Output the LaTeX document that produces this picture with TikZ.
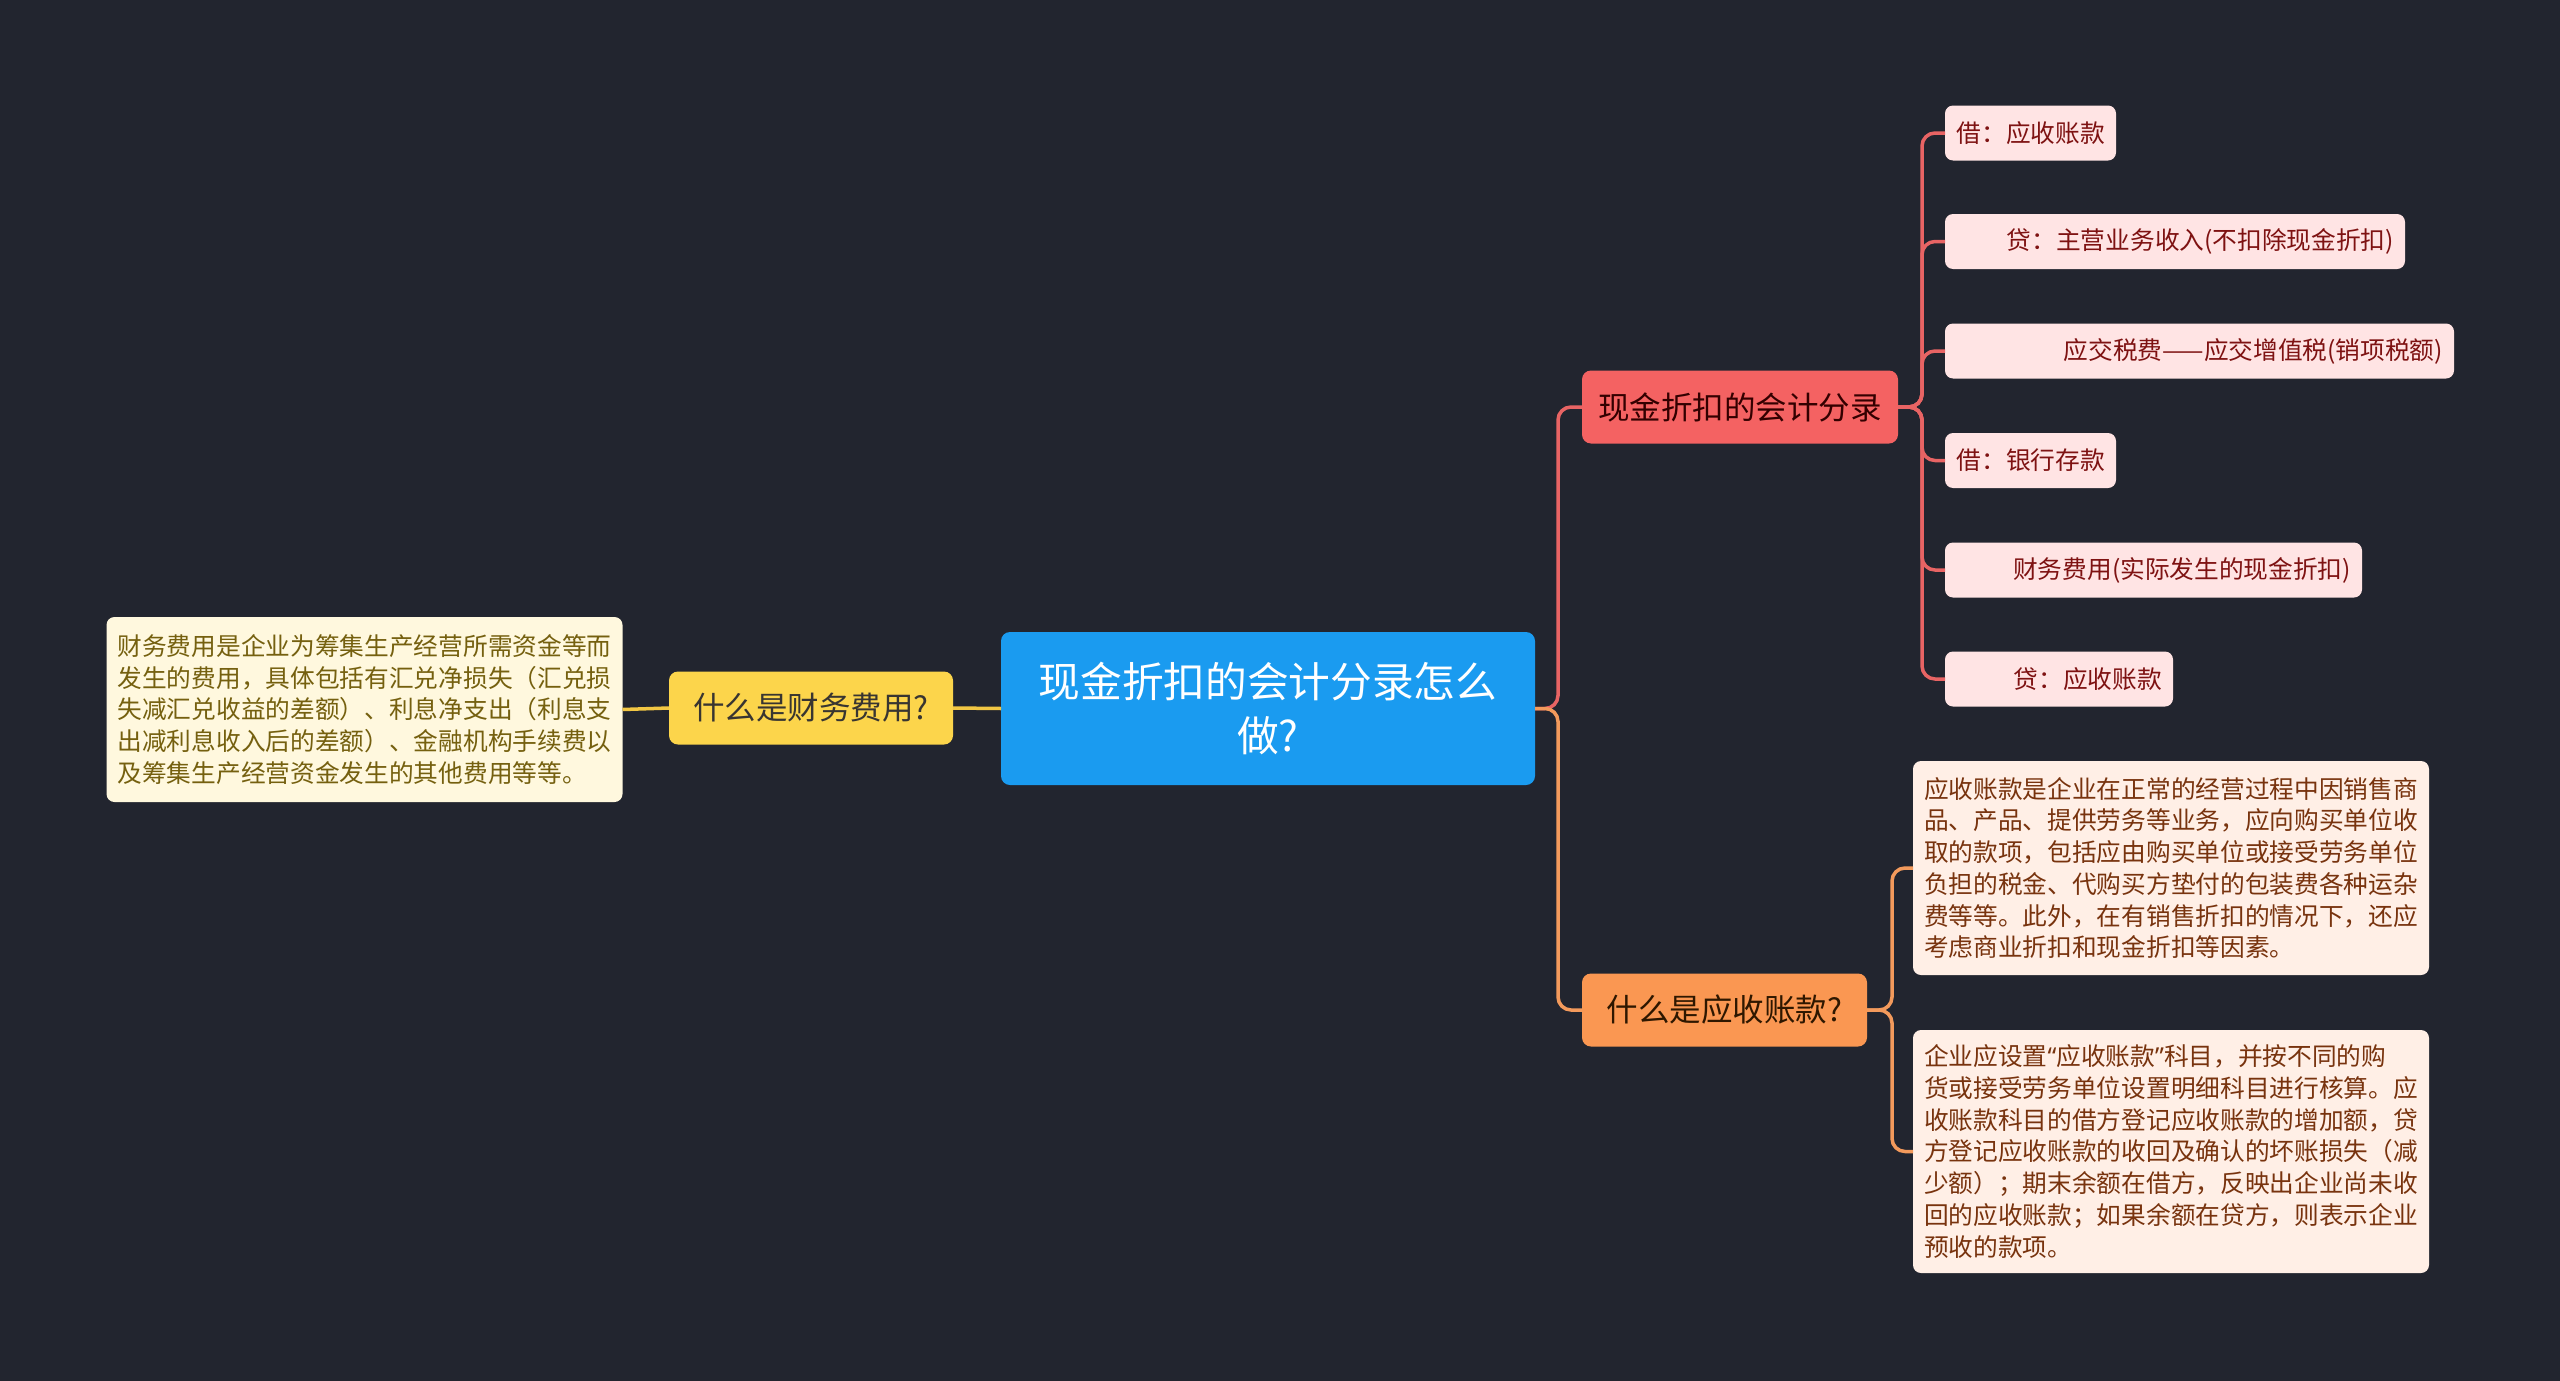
\documentclass[tikz,border=0pt]{standalone}
\usepackage{fontspec}
\setmainfont{Noto Sans CJK SC}
\newfontfamily\latinq{Noto Sans}
\definecolor{bgcol}{HTML}{22252F}
\definecolor{bluefill}{HTML}{1A9BF0}
\definecolor{yellowfill}{HTML}{FCD54B}
\definecolor{yellowline}{HTML}{F2C744}
\definecolor{redfill}{HTML}{F46262}
\definecolor{redline}{HTML}{E86464}
\definecolor{orangefill}{HTML}{FA9752}
\definecolor{orangeline}{HTML}{F39A5C}
\definecolor{leaffill}{HTML}{FFE4E4}
\definecolor{leaftext}{HTML}{7E1212}
\definecolor{creamfill}{HTML}{FFF8DE}
\definecolor{creamtext}{HTML}{75600F}
\definecolor{peachfill}{HTML}{FFEFE6}
\definecolor{peachtext}{HTML}{78330E}
\begin{document}
\begin{tikzpicture}[x=1pt,y=-1pt,
  every node/.style={inner sep=0pt, outer sep=0pt},
  centralbox/.style={fill=bluefill, rounded corners=9pt, text=white,
    font=\fontsize{41.7}{54}\selectfont, align=center,
    minimum width=534pt, minimum height=153pt},
  mainbox/.style={rounded corners=9pt, font=\fontsize{31.5}{38}\selectfont,
    minimum height=73pt, align=center},
  leafbox/.style={fill=leaffill, rounded corners=8pt, text=leaftext,
    font=\fontsize{24.7}{30}\selectfont, minimum height=55pt,
    inner xsep=11pt, align=right, anchor=west},
  textbox/.style={rounded corners=8pt, font=\fontsize{24.7}{31.7}\selectfont,
    inner xsep=11pt, text width=494pt, align=left},
  conn/.style={line width=3.5pt, rounded corners=13pt}
]
\fill[bgcol] (0,0) rectangle (2560,1381);

% nodes
\node[centralbox] (c) at (1268,708.5) {现金折扣的会计分录怎么\\做?};
\node[mainbox, fill=yellowfill, text=black!90!yellow, minimum width=284pt] (y) at (811,708) {什么是财务费用?};
\node[textbox, fill=creamfill, text=creamtext, minimum height=185pt] (lb) at (364.5,709.5) {财务费用是企业为筹集生产经营所需资金等而\\发生的费用，具体包括有汇兑净损失（汇兑损\\失减汇兑收益的差额）、利息净支出（利息支\\出减利息收入后的差额）、金融机构手续费以\\及筹集生产经营资金发生的其他费用等等。};

\node[mainbox, fill=redfill, text=black!80!red, minimum width=316pt] (r) at (1740,407) {现金折扣的会计分录};
\node[mainbox, fill=orangefill, text=black!82!orange, minimum width=285pt] (o) at (1724.5,1010) {什么是应收账款?};

\node[leafbox, text width=149pt] (l1) at (1945,133) {借：应收账款};
\node[leafbox, text width=438pt] (l2) at (1945,241.5) {贷：主营业务收入(不扣除现金折扣)};
\node[leafbox, text width=487pt] (l3) at (1945,351) {应交税费——应交增值税(销项税额)};
\node[leafbox, text width=149pt] (l4) at (1945,460.5) {借：银行存款};
\node[leafbox, text width=395pt] (l5) at (1945,570) {财务费用(实际发生的现金折扣)};
\node[leafbox, text width=206pt] (l6) at (1945,679) {贷：应收账款};

\node[textbox, fill=peachfill, text=peachtext, minimum height=214pt, anchor=west] (a) at (1913,868) {应收账款是企业在正常的经营过程中因销售商\\品、产品、提供劳务等业务，应向购买单位收\\取的款项，包括应由购买单位或接受劳务单位\\负担的税金、代购买方垫付的包装费各种运杂\\费等等。此外，在有销售折扣的情况下，还应\\考虑商业折扣和现金折扣等因素。};
\node[textbox, fill=peachfill, text=peachtext, minimum height=243pt, anchor=west] (b) at (1913,1151.5) {企业应设置{\latinq “}应收账款{\latinq ”}科目，并按不同的购\\货或接受劳务单位设置明细科目进行核算。应\\收账款科目的借方登记应收账款的增加额，贷\\方登记应收账款的收回及确认的坏账损失（减\\少额）；期末余额在借方，反映出企业尚未收\\回的应收账款；如果余额在贷方，则表示企业\\预收的款项。};

% connectors
\draw[conn, yellowline] (c.west) -- (y.east);
\draw[conn, yellowline] (y.west) -- (lb.east);
\draw[conn, redline] (c.east) -- ([xshift=23pt]c.east) |- (r.west);
\draw[conn, orangeline] (c.east) -- ([xshift=23pt]c.east) |- (o.west);
\foreach \n in {l1,l2,l3,l4,l5,l6}
  \draw[conn, redline] (r.east) -- ([xshift=24pt]r.east) |- (\n.west);
\foreach \n in {a,b}
  \draw[conn, orangeline] (o.east) -- ([xshift=25pt]o.east) |- (\n.west);
\end{tikzpicture}
\end{document}
